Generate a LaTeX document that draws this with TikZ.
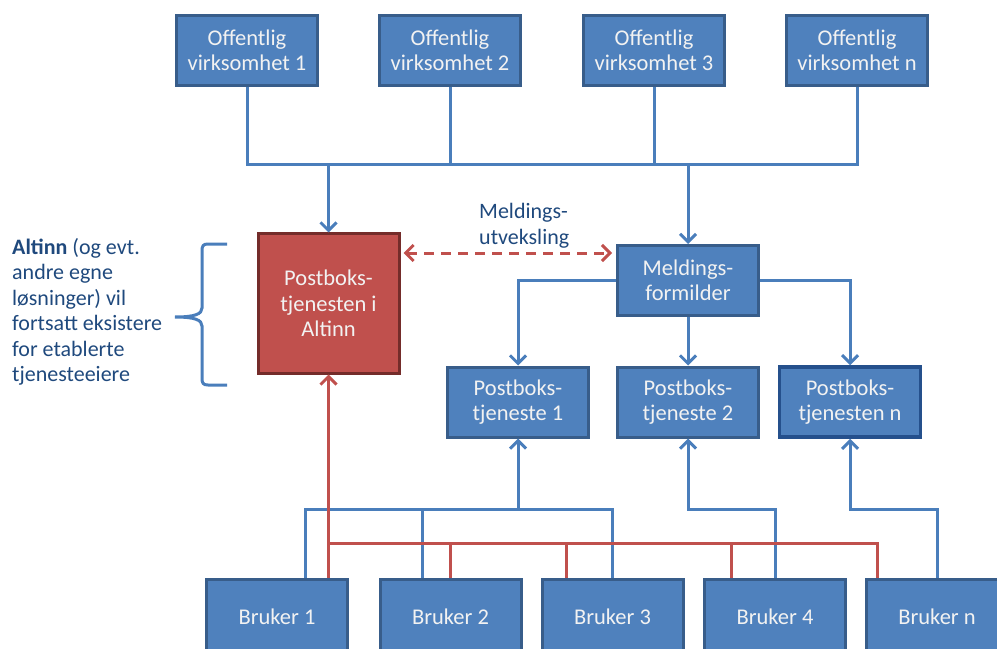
\documentclass[tikz,border=0pt]{standalone}
\usepackage{fontspec}
\setmainfont{Carlito}
\usetikzlibrary{arrows.meta,calc}
\definecolor{boxfill}{HTML}{4F81BD}
\definecolor{boxline}{HTML}{385D8A}
\definecolor{boxlinedark}{HTML}{25508C}
\definecolor{conn}{HTML}{4A7EBB}
\definecolor{redfill}{HTML}{C0504D}
\definecolor{redline}{HTML}{742C2A}
\definecolor{redconn}{HTML}{C0504D}
\definecolor{txtblue}{HTML}{1F497D}
\definecolor{boxtext}{HTML}{F2F2F2}
\begin{document}
\begin{tikzpicture}[x=1bp,y=-1bp,
  txt/.style={font=\fontsize{22.5bp}{25.5bp}\selectfont},
  ltxt/.style={font=\fontsize{22bp}{25.5bp}\selectfont},
  box/.style={txt,draw=boxline,fill=boxfill,line width=3bp,minimum width=141bp,minimum height=70bp,inner sep=0pt,align=center,text=boxtext},
  redbox/.style={box,draw=redline,fill=redfill,minimum width=141bp,minimum height=139bp},
  userbox/.style={box,minimum height=76bp},
  conn/.style={draw=conn,line width=3bp},
  rconn/.style={draw=redconn,line width=3bp},
  arr/.style={-{Straight Barb[length=8bp,width=16bp]}},
  darr/.style={{Straight Barb[length=8bp,width=16bp]}-{Straight Barb[length=8bp,width=16bp]}}
]
\useasboundingbox (0,0) rectangle (997,649);
\clip (0,0) rectangle (997,649);

% top boxes
\node[box] (o1) at (247,50.5) {Offentlig\\virksomhet 1};
\node[box] (o2) at (450,50.5) {Offentlig\\virksomhet 2};
\node[box] (o3) at (654,50.5) {Offentlig\\virksomhet 3};
\node[box] (on) at (857,50.5) {Offentlig\\virksomhet n};

% middle
\node[redbox] (alt) at (328.5,303.5) {Postboks-\\tjenesten i\\Altinn};
\node[box] (meld) at (688,280.5) {Meldings-\\formilder};
\node[box] (p1) at (518,402) {Postboks-\\tjeneste 1};
\node[box] (p2) at (688,402) {Postboks-\\tjeneste 2};
\node[box,draw=boxlinedark,line width=3.5bp] (pn) at (850,402) {Postboks-\\tjenesten n};

% users
\node[userbox] (b1) at (277,617) {Bruker 1};
\node[userbox] (b2) at (450.5,617) {Bruker 2};
\node[userbox] (b3) at (612.5,617) {Bruker 3};
\node[userbox] (b4) at (775,617) {Bruker 4};
\node[userbox] (bn) at (937,617) {Bruker n};

% left text
\node[ltxt,text=txtblue,align=left,anchor=west,inner sep=0pt] (note) at (12,312)
  {\textbf{Altinn} (og evt.\\andre egne\\løsninger) vil\\fortsatt eksistere\\for etablerte\\tjenesteeiere};
\draw[draw=conn,line width=3bp]
  (227,244) -- (208,244) .. controls (203,244) and (202,246) .. (202,251)
  -- (202,308) .. controls (202,314) and (195,317) .. (175,317)
  .. controls (195,317) and (202,320) .. (202,326)
  -- (202,378) .. controls (202,383) and (203,385) .. (208,385) -- (227,385);

% label
\node[ltxt,text=txtblue,align=left,anchor=west,inner sep=0pt] (lbl) at (479,226) {Meldings-\\utveksling};

% top bus
\coordinate (topbus) at (0,165);
\draw[conn] (o1.south) -- (o1.south |- topbus) -- (on.south |- topbus) -- (on.south);
\draw[conn] (o2.south) -- (o2.south |- topbus);
\draw[conn] (o3.south) -- (o3.south |- topbus);
\draw[conn,arr] (alt.north |- topbus) -- (alt.north);
\draw[conn,arr] (meld.north |- topbus) -- (meld.north);

% dashed exchange
\coordinate (dashy) at (0,253);
\draw[rconn,darr,dash pattern=on 10bp off 7bp] ([xshift=3bp]alt.east |- dashy) -- ([xshift=-4bp]meld.west |- dashy);

% meld branches
\draw[conn,arr] (meld.west) -| (p1.north);
\draw[conn,arr] (meld.east) -| (pn.north);
\draw[conn,arr] (meld.south) -- (p2.north);

% bottom blue
\coordinate (bbus) at (0,509);
\draw[conn] ([xshift=28bp]b1.north) |- (b3.north |- bbus) -- (b3.north);
\draw[conn] ([xshift=-28.5bp]b2.north) -- ([xshift=-28.5bp]b2.north |- bbus);
\draw[conn,arr] (p1.south |- bbus) -- (p1.south);
\draw[conn,arr] (b4.north) |- (p2.south |- bbus) -- (p2.south);
\draw[conn,arr] (bn.north) |- (pn.south |- bbus) -- (pn.south);

% bottom red
\coordinate (rbus) at (0,543);
\draw[rconn,arr] (alt.south |- b1.north) -- (alt.south);
\draw[rconn] (alt.south |- rbus) -- ([xshift=-60bp]bn.north |- rbus) -- ([xshift=-60bp]bn.north);
\draw[rconn] (b2.north) -- (b2.north |- rbus);
\draw[rconn] ([xshift=-46.5bp]b3.north) -- ([xshift=-46.5bp]b3.north |- rbus);
\draw[rconn] ([xshift=-44bp]b4.north) -- ([xshift=-44bp]b4.north |- rbus);
\end{tikzpicture}
\end{document}
